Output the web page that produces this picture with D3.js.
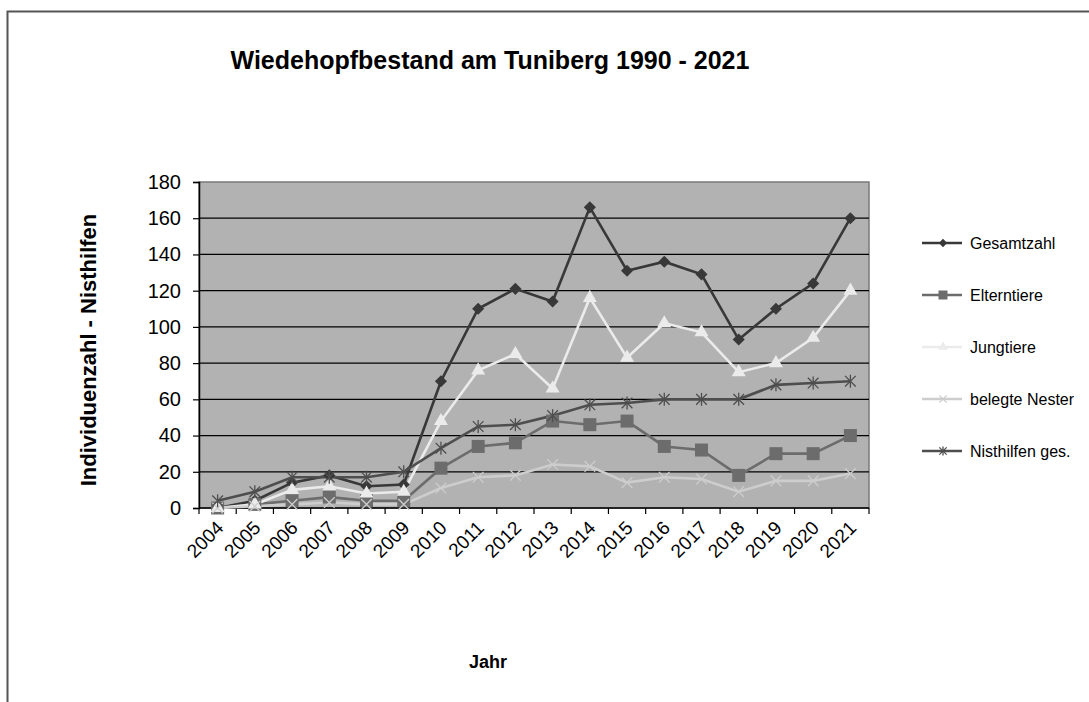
<!DOCTYPE html>
<html>
<head>
<meta charset="utf-8">
<script src="https://cdn.jsdelivr.net/npm/d3@7"></script>
<style>
  body { margin: 0; background: #fff; }
  svg { display: block; font-family: "Liberation Sans", Arial, sans-serif; }
</style>
</head>
<body>
<svg id="chart" width="1089" height="702"></svg>
<script>
// values
const years = ["2004","2005","2006","2007","2008","2009","2010","2011","2012","2013","2014","2015","2016","2017","2018","2019","2020","2021"];
const gesamtzahl = [0, 4, 14, 18, 12, 13, 70, 110, 121, 114, 166, 131, 136, 129, 93, 110, 124, 160];
const elterntiere = [0, 2, 4, 6, 4, 4, 22, 34, 36, 48, 46, 48, 34, 32, 18, 30, 30, 40];
const jungtiere = [0, 2, 10, 12, 8, 9, 48, 76, 85, 66, 116, 83, 102, 97, 75, 80, 94, 120];
const belegteNester = [0, 1, 2, 3, 2, 2, 11, 17, 18, 24, 23, 14, 17, 16, 9, 15, 15, 19];
const nisthilfen = [4, 9, 17, 17, 17, 20, 33, 45, 46, 51, 57, 58, 60, 60, 60, 68, 69, 70];
const yTicks = [0, 20, 40, 60, 80, 100, 120, 140, 160, 180];

const series = [
  {name: "Gesamtzahl", values: gesamtzahl, color: "#383838", marker: "diamond"},
  {name: "Elterntiere", values: elterntiere, color: "#6c6c6c", marker: "square"},
  {name: "Jungtiere", values: jungtiere, color: "#ebebeb", marker: "triangle"},
  {name: "belegte Nester", values: belegteNester, color: "#cdcdcd", marker: "cross"},
  {name: "Nisthilfen ges.", values: nisthilfen, color: "#4e4e4e", marker: "asterisk"}
];

const svg = d3.select("#chart");
const plot = {left: 199, top: 182, right: 869, bottom: 508};

// outer frame (only top and left edges are visible)
svg.append("path")
  .attr("d", "M7.5,702 L7.5,11.5 L1089,11.5")
  .attr("fill", "none")
  .attr("stroke", "#555")
  .attr("stroke-width", 2);

const x = d3.scaleBand().domain(years).range([plot.left, plot.right]);
const y = d3.scaleLinear().domain([0, 180]).range([plot.bottom, plot.top]);

// plot background
svg.append("rect")
  .attr("x", plot.left).attr("y", plot.top)
  .attr("width", plot.right - plot.left).attr("height", plot.bottom - plot.top)
  .attr("fill", "#b2b2b2")
  .attr("stroke", "#7a7a7a")
  .attr("stroke-width", 1.5);

// gridlines
svg.append("g").selectAll("line")
  .data(yTicks.filter(d => d > 0 && d < 180))
  .join("line")
  .attr("x1", plot.left).attr("x2", plot.right)
  .attr("y1", d => y(d)).attr("y2", d => y(d))
  .attr("stroke", "#000").attr("stroke-width", 1.2);

// y axis
const yAxis = svg.append("g")
  .attr("transform", `translate(${plot.left},0)`)
  .call(d3.axisLeft(y).tickValues(yTicks).tickSize(6).tickPadding(12));
yAxis.select(".domain").attr("stroke", "#000").attr("stroke-width", 1.5);
yAxis.selectAll(".tick line").attr("stroke", "#000").attr("stroke-width", 1.2);
yAxis.selectAll("text").attr("font-size", 20).attr("fill", "#000")
  .attr("font-family", "Liberation Sans, Arial, sans-serif");

// x axis: ticks sit between categories
const xAxis = svg.append("g").attr("transform", `translate(0,${plot.bottom})`);
xAxis.append("line")
  .attr("x1", plot.left).attr("x2", plot.right)
  .attr("stroke", "#000").attr("stroke-width", 1.5);
xAxis.selectAll("line.tk")
  .data(years.concat(["end"]))
  .join("line")
  .attr("class", "tk")
  .attr("x1", (d, i) => plot.left + i * x.step())
  .attr("x2", (d, i) => plot.left + i * x.step())
  .attr("y1", 0).attr("y2", 6)
  .attr("stroke", "#000").attr("stroke-width", 1.2);
xAxis.selectAll("text")
  .data(years)
  .join("text")
  .attr("text-anchor", "end")
  .attr("font-size", 19)
  .attr("transform", d => `translate(${x(d) + x.bandwidth() / 2 + 7},${21}) rotate(-45)`)
  .text(d => d);

// lines
const line = d3.line()
  .x((d, i) => x(years[i]) + x.bandwidth() / 2)
  .y(d => y(d));

series.forEach(s => {
  svg.append("path")
    .datum(s.values)
    .attr("d", line)
    .attr("fill", "none")
    .attr("stroke", s.color)
    .attr("stroke-width", 2.6);
});

function drawMarker(g, type, color, size) {
  if (type === "diamond") {
    g.append("path").attr("d", d3.symbol(d3.symbolDiamond2, size * size * 0.55)()).attr("fill", color);
  } else if (type === "square") {
    g.append("rect").attr("x", -size / 2).attr("y", -size / 2)
      .attr("width", size).attr("height", size).attr("fill", color);
  } else if (type === "triangle") {
    g.append("path").attr("d", d3.symbol(d3.symbolTriangle, size * size * 0.5)()).attr("fill", color);
  } else if (type === "cross") {
    g.append("path").attr("d", d3.symbol(d3.symbolX, size * size * 0.45)())
      .attr("fill", "none").attr("stroke", color).attr("stroke-width", 1.3);
  } else if (type === "asterisk") {
    g.append("path").attr("d", d3.symbol(d3.symbolX, size * size * 0.45)())
      .attr("fill", "none").attr("stroke", color).attr("stroke-width", 1.3);
    g.append("line").attr("y1", -size / 2).attr("y2", size / 2)
      .attr("stroke", color).attr("stroke-width", 1.3);
  }
}

// markers
series.forEach(s => {
  s.values.forEach((v, i) => {
    const g = svg.append("g")
      .attr("transform", `translate(${x(years[i]) + x.bandwidth() / 2},${y(v)})`);
    drawMarker(g, s.marker, s.color, 13);
  });
});

// legend
const legend = svg.append("g").attr("transform", "translate(922,243)");
series.forEach((s, i) => {
  const row = legend.append("g").attr("transform", `translate(0,${i * 52})`);
  row.append("line").attr("x1", 0).attr("x2", 40)
    .attr("stroke", s.color).attr("stroke-width", 2.6);
  const m = row.append("g").attr("transform", "translate(21,0)");
  drawMarker(m, s.marker, s.color, 9);
  row.append("text")
    .attr("x", 48).attr("y", 6)
    .attr("font-size", 16).attr("fill", "#000")
    .text(s.name);
});

// title and axis titles
svg.append("text")
  .attr("x", 490).attr("y", 69)
  .attr("text-anchor", "middle")
  .attr("font-size", 25).attr("font-weight", "bold")
  .text("Wiedehopfbestand am Tuniberg 1990 - 2021");

svg.append("text")
  .attr("transform", "translate(96,350) rotate(-90)")
  .attr("text-anchor", "middle")
  .attr("font-size", 22).attr("font-weight", "bold")
  .text("Individuenzahl - Nisthilfen");

svg.append("text")
  .attr("x", 488).attr("y", 668)
  .attr("text-anchor", "middle")
  .attr("font-size", 18).attr("font-weight", "bold")
  .text("Jahr");
</script>
</body>
</html>
